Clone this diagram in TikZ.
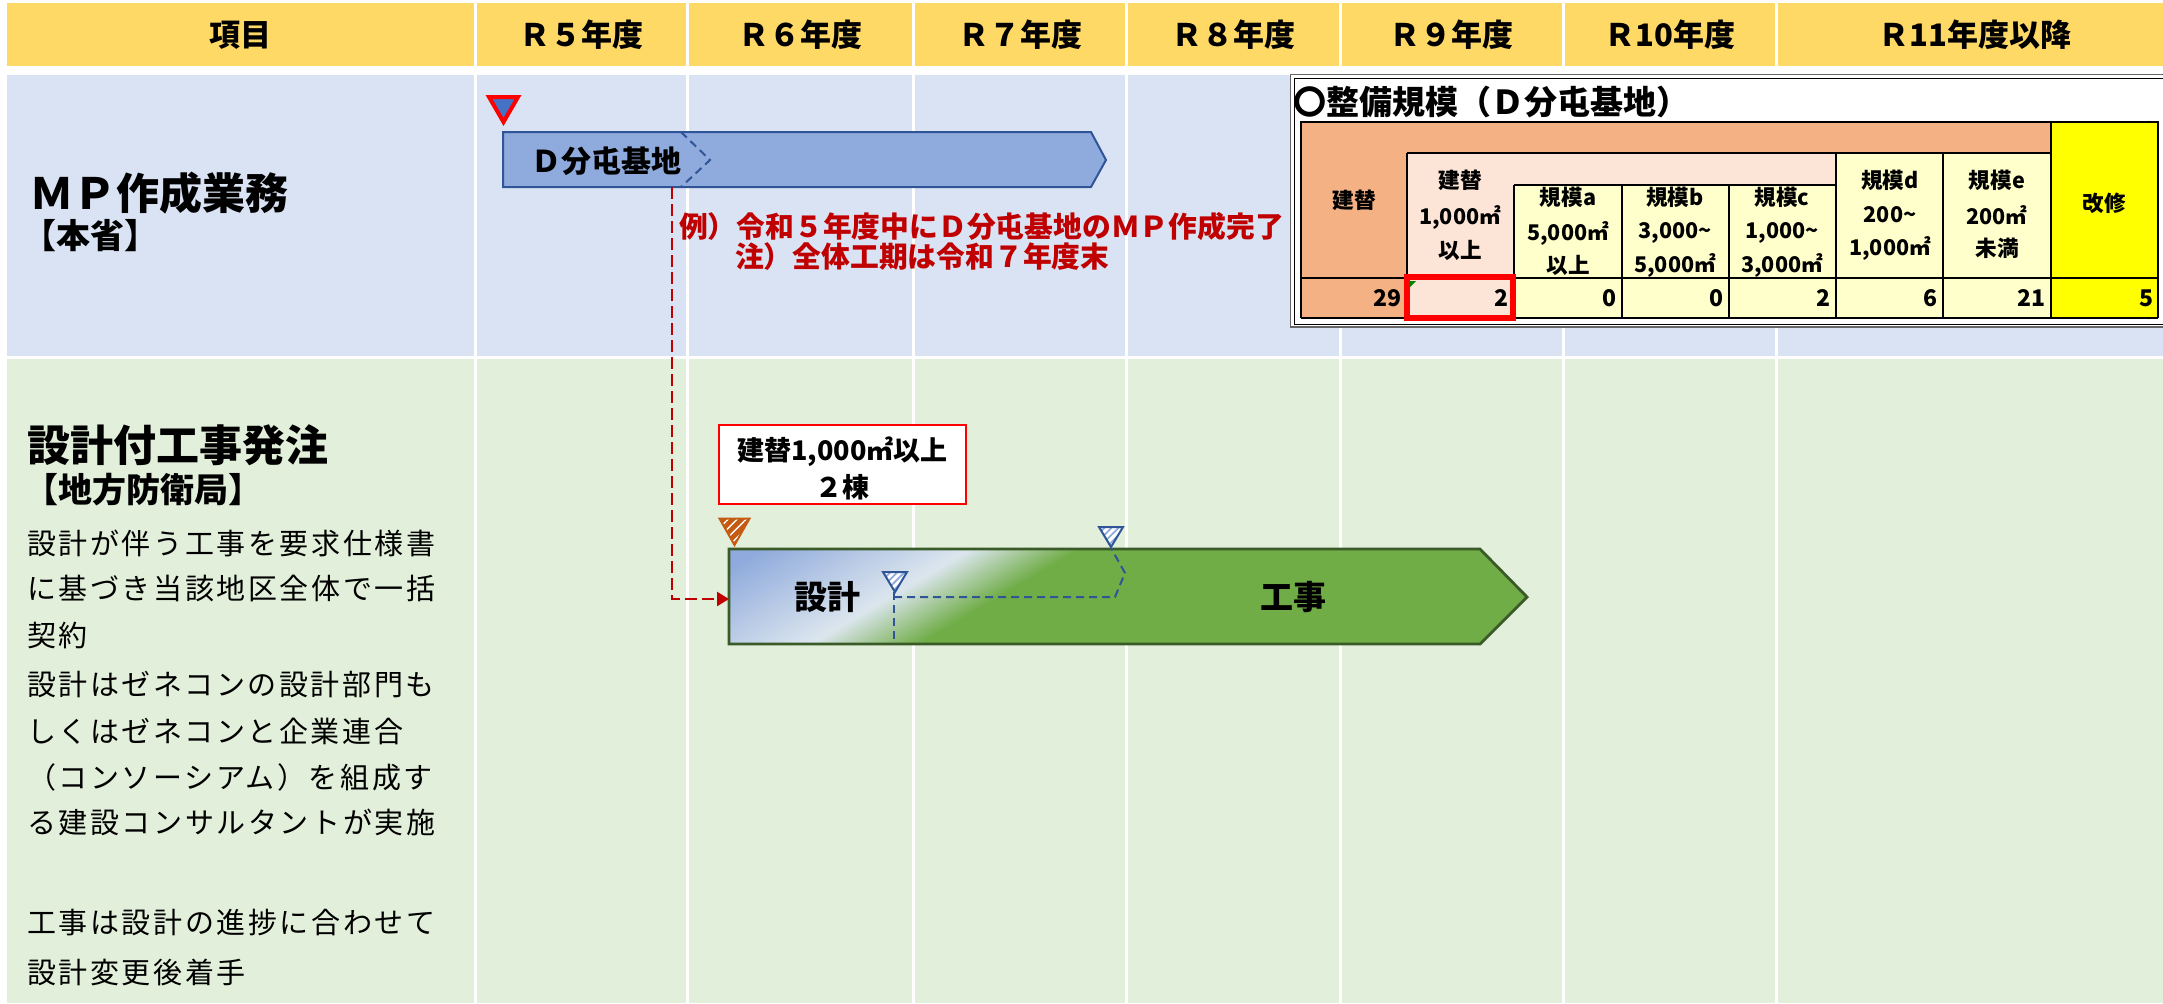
\documentclass[tikz,border=0pt]{standalone}
\usepackage{fontspec}
\setmainfont{Noto Sans CJK JP}
\usetikzlibrary{arrows.meta,patterns.meta}
\definecolor{hdY}{HTML}{FFD966}
\definecolor{mpB}{HTML}{DAE3F3}
\definecolor{dsG}{HTML}{E2EFDA}
\definecolor{barB}{HTML}{8FAADC}
\definecolor{barBE}{HTML}{2F5597}
\definecolor{barG}{HTML}{70AD47}
\definecolor{barGE}{HTML}{3A5A28}
\definecolor{redT}{HTML}{C00000}
\definecolor{triB}{HTML}{4472C4}
\definecolor{tOr}{HTML}{F4B183}
\definecolor{tPk}{HTML}{FCE4D6}
\definecolor{tCr}{HTML}{FFFFCC}
\definecolor{tYe}{HTML}{FFFF00}
\definecolor{hatchO}{HTML}{C55A11}
\definecolor{gA}{HTML}{8FAADC}
\definecolor{gB}{HTML}{DCE6EE}
\begin{document}
\begin{tikzpicture}[x=0.5pt,y=-0.5pt,
  txt/.style={inner sep=0pt, outer sep=0pt},
  hdr/.style={txt, font=\fontsize{15.5}{18}\selectfont\bfseries},
  bigt/.style={txt, anchor=west, font=\fontsize{21.5}{24}\selectfont\bfseries},
  subt/.style={txt, anchor=west, font=\fontsize{17}{20}\selectfont\bfseries},
  bodyt/.style={txt, anchor=west, font=\fontsize{14.5}{18}\selectfont\addfontfeature{LetterSpace=9}},
  redtxt/.style={txt, anchor=west, text=redT, font=\fontsize{14.4}{18}\selectfont\bfseries},
  cellt/.style={txt, font=\fontsize{10.8}{12}\selectfont\bfseries},
  numt/.style={txt, anchor=east, font=\fontsize{11.5}{12}\selectfont\bfseries},
  gridl/.style={line width=0.7pt, black},
  sepl/.style={white, line width=1.5pt},
  conn/.style={redT, line width=1.2pt, dash pattern=on 6pt off 2.5pt, -{Triangle[length=6pt,width=7pt]}},
  bdash/.style={barBE, line width=1pt, dash pattern=on 4pt off 2.5pt},
  ]
\useasboundingbox (0,0) rectangle (2163,1003);
% ---------- background bands
\fill[hdY] (7,3) rectangle (2163,66);
\fill[mpB] (7,75) rectangle (2163,356);
\fill[dsG] (7,359) rectangle (2163,1003);
\foreach \x in {475.5,687,913,1126,1340,1563,1776}
  \draw[sepl] (\x,0) -- (\x,1003);
% ---------- header texts
\node[hdr] (h0) at (240,35) {項目};
\node[hdr] (h5) at (581,35) {Ｒ５年度};
\node[hdr] (h6) at (800,35) {Ｒ６年度};
\node[hdr] (h7) at (1020,35) {Ｒ７年度};
\node[hdr] (h8) at (1233,35) {Ｒ８年度};
\node[hdr] (h9) at (1451,35) {Ｒ９年度};
\node[hdr] (h10) at (1670,35) {Ｒ10年度};
\node[hdr] (h11) at (1975,35) {Ｒ11年度以降};
% ---------- left column texts
\node[bigt] (mpT) at (30,193) {ＭＰ作成業務};
\node[subt] (mpS) at (22,236) {【本省】};
\node[bigt] (dsT) at (27,445) {設計付工事発注};
\node[subt] (dsS) at (25,490) {【地方防衛局】};
\node[bodyt] (b1) at (27,543) {設計が伴う工事を要求仕様書};
\node[bodyt] (b2) at (27,588) {に基づき当該地区全体で一括};
\node[bodyt] (b3) at (27,635) {契約};
\node[bodyt] (b4) at (27,685) {設計はゼネコンの設計部門も};
\node[bodyt] (b5) at (27,731) {しくはゼネコンと企業連合};
\node[bodyt] (b6) at (27,777) {（コンソーシアム）を組成す};
\node[bodyt] (b7) at (27,822) {る建設コンサルタントが実施};
\node[bodyt] (b8) at (27,923) {工事は設計の進捗に合わせて};
\node[bodyt] (b9) at (27,972) {設計変更後着手};
% ---------- MP bar
\path[fill=barB, draw=barBE, line width=1pt, line join=miter]
  (503,132) -- (1091,132) -- (1106,160) -- (1091,187) -- (503,187) -- cycle;
\draw[bdash] (681,132) -- (710,160) -- (681,187);
\node[txt, anchor=west, font=\fontsize{15}{18}\selectfont\bfseries] (dname) at (531,161) {Ｄ分屯基地};
\path[fill=triB, draw=red, line width=2pt, line join=miter]
  (489,97) -- (518,97) -- (503.5,122) -- cycle;
\coordinate (dbarFoot) at (672,187);
% ---------- notes
\node[redtxt] (ex1) at (679,227) {例）令和５年度中にＤ分屯基地のＭＰ作成完了};
\node[redtxt] (ex2) at (735,257) {注）全体工期は令和７年度末};
% ---------- design/construction bar
\begin{scope}
  \clip (729,549) -- (1480,549) -- (1527,597) -- (1480,644) -- (729,644) -- cycle;
  \fill[barG] (700,540) rectangle (1540,660);
  \foreach \u in {600,604,...,1020}{
    \pgfmathsetmacro\pa{min(max((\u-680)/2.1,0),100)}
    \pgfmathsetmacro\pb{min(max((\u-890)/1.1,0),100)}
    \colorlet{sA}{gB!\pa!gA}
    \colorlet{sB}{barG!\pb!sA}
    \fill[sB] (\u-81,644) -- (\u+79,549) -- (\u+85,549) -- (\u-75,644) -- cycle;
  }
\end{scope}
\draw[barGE, line width=1.4pt, line join=miter]
  (729,549) -- (1480,549) -- (1527,597) -- (1480,644) -- (729,644) -- cycle;
\coordinate (gbarWest) at (729,599);
\node[txt, font=\fontsize{16.5}{18}\selectfont\bfseries] (sekkei) at (827,597) {設計};
\node[txt, font=\fontsize{16.5}{18}\selectfont\bfseries] (kouji) at (1293,597) {工事};
% connector
\draw[conn] (dbarFoot) |- (gbarWest);
% milestones
\path[fill=hatchO] (719.5,518.5) -- (749.5,518.5) -- (734.5,545) -- cycle;
\path[pattern={Lines[angle=45,distance=3.2pt,line width=0.7pt]}, pattern color=white]
  (719.5,518.5) -- (749.5,518.5) -- (734.5,545) -- cycle;
\draw[hatchO, line width=1pt, line join=miter] (719.5,518.5) -- (749.5,518.5) -- (734.5,545) -- cycle;
\coordinate (t1tip) at (894,592);
\coordinate (t2tip) at (1111,548);
\path[fill=white] (883,572) -- (907,572) -- (895,592) -- cycle;
\path[pattern={Lines[angle=45,distance=2.5pt,line width=0.9pt]}, pattern color=barB]
  (883,572) -- (907,572) -- (895,592) -- cycle;
\draw[barBE, line width=1pt, line join=miter] (883,572) -- (907,572) -- (895,592) -- cycle;
\path[fill=white] (1099,527) -- (1123,527) -- (1111,547) -- cycle;
\path[pattern={Lines[angle=45,distance=2.5pt,line width=0.9pt]}, pattern color=barB]
  (1099,527) -- (1123,527) -- (1111,547) -- cycle;
\draw[barBE, line width=1pt, line join=miter] (1099,527) -- (1123,527) -- (1111,547) -- cycle;
\draw[bdash] (t1tip) -- (894,644);
\draw[bdash] (894,597) -- (1115,597) -- (1125,573) -- (t2tip);
% note box
\node[draw=red, fill=white, line width=1pt, minimum width=123.5pt, minimum height=39.5pt, inner sep=0pt] (note) at (842.5,464.5) {};
\node[txt, font=\fontsize{13.5}{16}\selectfont\bfseries] (note1) at (842.5,452) {建替1,000㎡以上};
\node[txt, font=\fontsize{13.5}{16}\selectfont\bfseries] (note2) at (842.5,487) {２棟};
% ---------- table
\fill[white] (1290,74) rectangle (2170,327);
\draw[black!60, line width=0.8pt] (1290.5,74.5) rectangle (2175,327);
\draw[black, line width=0.5pt] (1294,78) rectangle (2175,324);
\node[txt, anchor=west, font=\fontsize{16.5}{18}\selectfont\bfseries] (ttl) at (1293,102) {〇整備規模（Ｄ分屯基地）};
\fill[tOr] (1301,122) rectangle (2051,318);
\fill[tPk] (1407,153) rectangle (1836,185);
\fill[tPk] (1407,185) rectangle (1514,318);
\fill[tCr] (1514,185) rectangle (1836,318);
\fill[tCr] (1836,153) rectangle (2051,318);
\fill[tYe] (2051,122) rectangle (2158,318);
\draw[gridl] (1301,318) -- (1301,122) -- (2158,122) -- (2158,318);
\draw[gridl] (1407,153) -- (2051,153);
\draw[gridl] (1514,185) -- (1836,185);
\draw[gridl] (1301,278) -- (2158,278);
\draw[gridl] (1301,318) -- (2158,318);
\foreach \x/\y in {1407/153,1514/185,1622/185,1729/185,1836/153,1943/153,2051/122}
  \draw[gridl] (\x,\y) -- (\x,318);
\node[cellt] (c1) at (1354,200) {建替};
\node[cellt] (c2a) at (1460,180) {建替};
\node[cellt] (c2b) at (1460,217) {1,000㎡};
\node[cellt] (c2c) at (1460,250) {以上};
\node[cellt] (c3a) at (1568,197) {規模a};
\node[cellt] (c3b) at (1568,233) {5,000㎡};
\node[cellt] (c3c) at (1568,265) {以上};
\node[cellt] (c4a) at (1675,197) {規模b};
\node[cellt] (c4b) at (1675,233) {3,000\textasciitilde};
\node[cellt] (c4c) at (1675,265) {5,000㎡};
\node[cellt] (c5a) at (1782,197) {規模c};
\node[cellt] (c5b) at (1782,233) {1,000\textasciitilde};
\node[cellt] (c5c) at (1782,265) {3,000㎡};
\node[cellt] (c6a) at (1890,180) {規模d};
\node[cellt] (c6b) at (1890,215) {200\textasciitilde};
\node[cellt] (c6c) at (1890,248) {1,000㎡};
\node[cellt] (c7a) at (1997,180) {規模e};
\node[cellt] (c7b) at (1997,215) {200㎡};
\node[cellt] (c7c) at (1997,248) {未満};
\node[cellt] (c8) at (2104,203) {改修};
\node[numt] (n1) at (1401,298) {29};
\node[numt] (n2) at (1508,298) {2};
\node[numt] (n3) at (1616,298) {0};
\node[numt] (n4) at (1723,298) {0};
\node[numt] (n5) at (1830,298) {2};
\node[numt] (n6) at (1937,298) {6};
\node[numt] (n7) at (2045,298) {21};
\node[numt] (n8) at (2153,298) {5};
\fill[green!50!black] (1410,281) -- (1416,281) -- (1410,287) -- cycle;
\draw[red, line width=3pt] (1407,277) rectangle (1513,318);
\end{tikzpicture}
\end{document}
